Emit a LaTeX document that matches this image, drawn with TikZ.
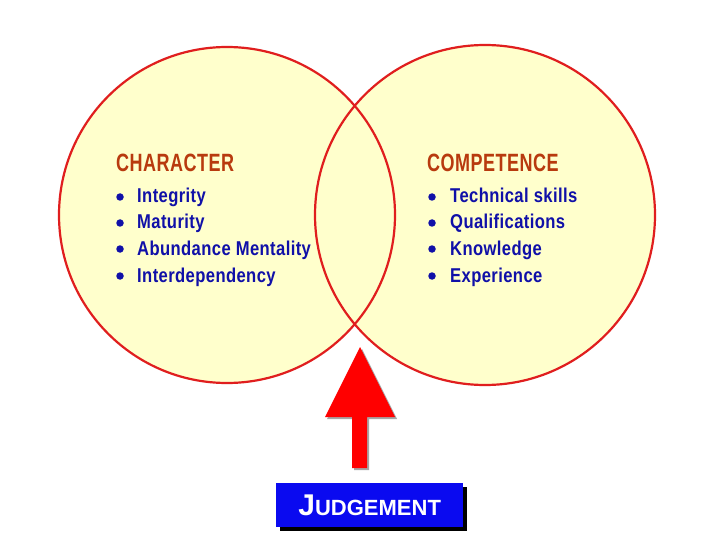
\documentclass[tikz,border=0pt]{standalone}
\usepackage{fontspec}
\newfontfamily\cond[FakeStretch=0.83,LetterSpace=2]{Liberation Sans}
\newfontfamily\condh[FakeStretch=0.72,LetterSpace=2]{Liberation Sans}
\definecolor{circfill}{HTML}{FFFFCC}
\definecolor{circline}{HTML}{E01E1E}
\definecolor{headc}{HTML}{B83A0E}
\definecolor{itemc}{HTML}{1010A8}
\definecolor{boxblue}{HTML}{0A0AF0}
\begin{document}
\begin{tikzpicture}[x=1pt,y=-1pt,
  head/.style={anchor=base west,inner sep=0,text=headc,font=\condh\bfseries\fontsize{25}{25}\selectfont},
  item/.style={anchor=base west,inner sep=0,text=itemc,font=\cond\bfseries\fontsize{20}{20}\selectfont},
  bul/.style={circle,fill=itemc,inner sep=0,minimum size=7.5pt}]
\useasboundingbox (0,0) rectangle (720,540);
\fill[white] (0,0) rectangle (720,540);
\fill[circfill] (227,215) circle (168);
\fill[circfill] (485,215) circle (170);
\node[circle,draw=circline,line width=2.2pt,minimum size=336pt,inner sep=0] (L) at (227,215) {};
\node[circle,draw=circline,line width=2.2pt,minimum size=340pt,inner sep=0] (R) at (485,215) {};
\node[head] (hc) at (116,172) {CHARACTER};
\node[item] (i1) at (137,203) {Integrity};
\node[item] (i2) at (137,229) {Maturity};
\node[item] (i3) at (137,255) {Abundance Mentality};
\node[item] (i4) at (137,282) {Interdependency};
\foreach \y/\n in {197/a1,223/a2,249/a3,276/a4} \node[bul] (\n) at (120,\y) {};
\node[head] (hk) at (427,172) {COMPETENCE};
\node[item] (k1) at (450,203) {Technical skills};
\node[item] (k2) at (450,229) {Qualifications};
\node[item] (k3) at (450,255) {Knowledge};
\node[item] (k4) at (450,282) {Experience};
\foreach \y/\n in {197/b1,223/b2,249/b3,276/b4} \node[bul] (\n) at (432,\y) {};
\fill[gray!70] (362,349) -- (397,419) -- (369,419) -- (369,470) -- (354,470) -- (354,419) -- (327,419) -- cycle;
\fill[red] (360,347) -- (395,417) -- (367,417) -- (367,468) -- (352,468) -- (352,417) -- (325,417) -- cycle;
\fill[black] (280,487) rectangle (467,531);
\node[fill=boxblue,minimum width=187pt,minimum height=44pt,inner sep=0,anchor=north west,text=white,font=\fontspec{Liberation Sans}\bfseries] (J) at (276,483) {\fontsize{30}{30}\selectfont J\fontsize{22}{22}\selectfont UDGEMENT};
\end{tikzpicture}
\end{document}
